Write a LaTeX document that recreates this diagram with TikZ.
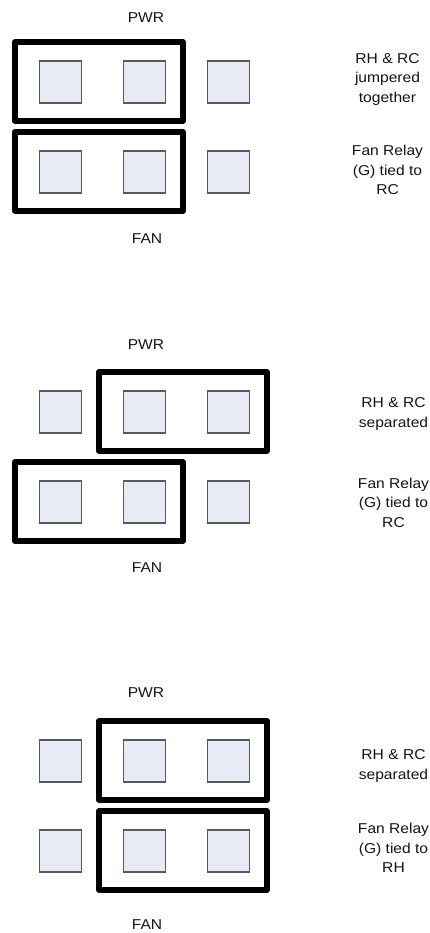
\documentclass[tikz,border=0pt]{standalone}
\usepackage{fontspec}
\newfontfamily\lblfont[FakeStretch=1.09]{Liberation Sans}
\usetikzlibrary{calc,positioning}
\definecolor{termfill}{RGB}{231,235,246}
\definecolor{termline}{RGB}{90,90,90}
\tikzset{%
	termbox/.style = {draw=termline, fill=termfill, line width=1.2pt, rectangle, minimum size=42pt, inner sep=0pt}, % Terminal
	jumper/.style  = {draw=black, line width=6pt, line join=round}, % Jumper
	lbl/.style     = {font=\lblfont\fontsize{14.3}{19.5}\selectfont, text=black!92, align=center, inner sep=0pt}, % Text
}
\begin{document}
\begin{tikzpicture}[x=1pt, y=1pt, on grid, node distance=90pt and 84pt]
	\useasboundingbox (0,0) rectangle (430,-933);
	% RH & RC jumpered, G tied to RC
	\node[lbl] (pwr1) at (146,-18) {PWR};
	\node[termbox] (a1) at (60.5,-82) {};
	\node[termbox,right=of a1] (a2) {};
	\node[termbox,right=of a2] (a3) {};
	\node[termbox,below=of a1] (b1) {};
	\node[termbox,right=of b1] (b2) {};
	\node[termbox,right=of b2] (b3) {};
	\node[lbl] (fan1) at (147,-239) {FAN};
	\node[lbl] (note1) at (387.5,-79) {RH \& RC\\jumpered\\together};
	\node[lbl] (note2) at (387.5,-170) {Fan Relay\\(G) tied to\\RC};
	\draw[jumper] ($(a1.north west)+(-24,18)$) rectangle ($(a2.south east)+(17,-17)$);
	\draw[jumper] ($(b1.north west)+(-24,18)$) rectangle ($(b2.south east)+(17,-17)$);
	% RH & RC separated, G tied to RC
	\node[lbl] (pwr2) at (146,-345) {PWR};
	\node[termbox] (c1) at (60.5,-412) {};
	\node[termbox,right=of c1] (c2) {};
	\node[termbox,right=of c2] (c3) {};
	\node[termbox,below=of c1] (d1) {};
	\node[termbox,right=of d1] (d2) {};
	\node[termbox,right=of d2] (d3) {};
	\node[lbl] (fan2) at (147,-568) {FAN};
	\node[lbl] (note3) at (393.5,-414) {RH \& RC\\separated};
	\node[lbl] (note4) at (393.5,-502.5) {Fan Relay\\(G) tied to\\RC};
	\draw[jumper] ($(c2.north west)+(-24,18)$) rectangle ($(c3.south east)+(17,-17)$);
	\draw[jumper] ($(d1.north west)+(-24,18)$) rectangle ($(d2.south east)+(17,-17)$);
	% RH & RC separated, G tied to RH
	\node[lbl] (pwr3) at (146,-693) {PWR};
	\node[termbox] (e1) at (60.5,-761) {};
	\node[termbox,right=of e1] (e2) {};
	\node[termbox,right=of e2] (e3) {};
	\node[termbox,below=of e1] (f1) {};
	\node[termbox,right=of f1] (f2) {};
	\node[termbox,right=of f2] (f3) {};
	\node[lbl] (fan3) at (147,-925) {FAN};
	\node[lbl] (note5) at (393.5,-766) {RH \& RC\\separated};
	\node[lbl] (note6) at (393.5,-848) {Fan Relay\\(G) tied to\\RH};
	\draw[jumper] ($(e2.north west)+(-24,18)$) rectangle ($(e3.south east)+(17,-17)$);
	\draw[jumper] ($(f2.north west)+(-24,18)$) rectangle ($(f3.south east)+(17,-17)$);
\end{tikzpicture}
\end{document}
